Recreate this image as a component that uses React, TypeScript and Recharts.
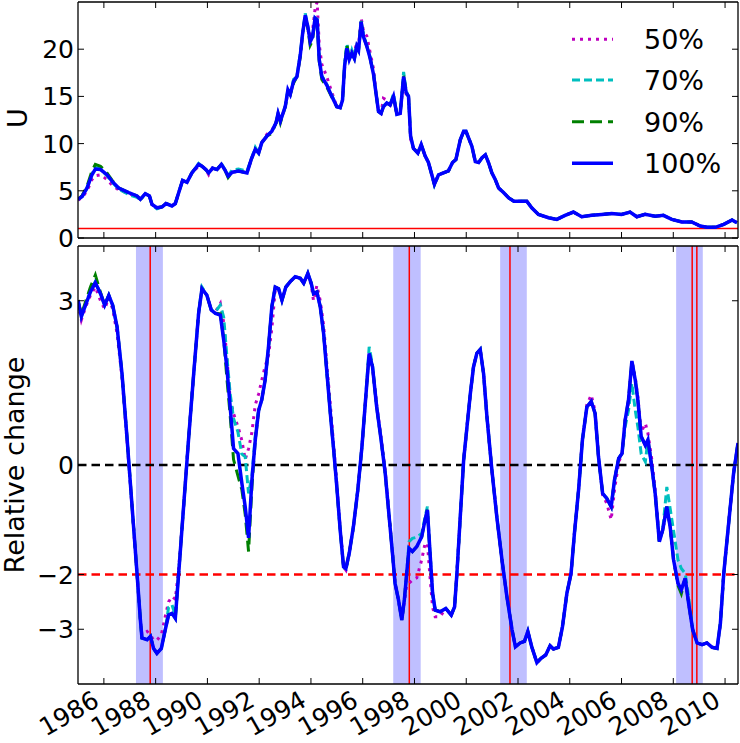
import { LineChart, Line, XAxis, YAxis, ReferenceLine, ReferenceArea } from "recharts";

const FONT = "'DejaVu Sans', sans-serif";

// axis ticks
const yearTicks = [1986, 1988, 1990, 1992, 1994, 1996, 1998, 2000, 2002, 2004, 2006, 2008, 2010];
const uTicks = [0, 5, 10, 15, 20];
const changeTicks = [-3, -2, 0, 3];
const seriesLabels = ["50%", "70%", "90%", "100%"];

// top panel: U
const topYears = [
  1985.0, 1985.16, 1985.35, 1985.54, 1985.67, 1985.87, 1986.12, 1986.32, 1986.57, 1986.96,
  1987.28, 1987.41, 1987.6, 1987.76, 1987.86, 1988.05, 1988.25, 1988.4, 1988.63, 1988.76,
  1988.89, 1989.04, 1989.21, 1989.4, 1989.66, 1989.79, 1989.94, 1990.05, 1990.2, 1990.37,
  1990.54, 1990.67, 1990.8, 1990.95, 1991.2, 1991.53, 1991.69, 1991.85, 1991.98, 1992.1,
  1992.3, 1992.49, 1992.65, 1992.73, 1992.82, 1993.01, 1993.11, 1993.2, 1993.33, 1993.46,
  1993.59, 1993.68, 1993.78, 1993.88, 1993.97, 1994.06, 1994.16, 1994.24, 1994.32, 1994.42,
  1994.61, 1994.81, 1995.0, 1995.13, 1995.22, 1995.3, 1995.39, 1995.48, 1995.58, 1995.68,
  1995.77, 1995.84, 1995.94, 1996.03, 1996.16, 1996.29, 1996.42, 1996.51, 1996.61, 1996.71,
  1996.8, 1996.93, 1997.06, 1997.19, 1997.32, 1997.45, 1997.58, 1997.68, 1997.77, 1997.85,
  1997.96, 1998.13, 1998.26, 1998.41, 1998.54, 1998.67, 1998.77, 1998.93, 1999.12, 1999.31,
  1999.47, 1999.6, 1999.77, 1999.9, 1999.99, 2000.09, 2000.22, 2000.35, 2000.48, 2000.61,
  2000.74, 2000.86, 2000.99, 2001.12, 2001.25, 2001.45, 2001.64, 2001.84, 2002.15, 2002.34,
  2002.53, 2002.79, 2003.18, 2003.5, 2003.82, 2004.14, 2004.46, 2004.85, 2005.24, 2005.62,
  2006.0, 2006.33, 2006.59, 2006.91, 2007.3, 2007.62, 2007.94, 2008.33, 2008.71, 2009.04,
  2009.3, 2009.62, 2009.95, 2010.27, 2010.46,
];
const u100 = [
  4.1, 4.4, 5.3, 6.7, 7.3, 7.25, 6.7, 6.0, 5.3, 4.8,
  4.45, 4.1, 4.7, 4.45, 3.55, 3.2, 3.3, 3.65, 3.4, 3.65,
  4.8, 6.1, 5.9, 6.9, 7.8, 7.6, 7.25, 6.9, 7.4, 7.25,
  7.8, 7.25, 6.55, 6.95, 7.1, 6.9, 8.3, 9.4, 9.0, 10.1,
  10.8, 11.3, 12.2, 13.2, 12.4, 13.95, 15.7, 15.2, 16.6, 17.1,
  19.4, 21.7, 23.6, 22.4, 20.8, 21.3, 23.3, 23.1, 18.9, 17.1,
  16.2, 15.0, 13.9, 13.8, 14.6, 18.2, 20.1, 18.9, 19.6, 19.0,
  20.3, 19.9, 22.9, 21.3, 20.3, 19.0, 17.3, 15.4, 13.4, 13.2,
  13.9, 14.3, 14.1, 15.0, 13.1, 13.2, 17.1, 15.4, 15.0, 10.8,
  9.5, 9.0, 9.9, 8.7, 8.0, 6.7, 5.7, 6.7, 6.9, 7.1,
  8.0, 8.3, 10.4, 11.3, 11.3, 10.6, 9.7, 8.1, 8.0, 8.5,
  8.8, 8.0, 6.9, 6.2, 5.3, 4.8, 4.25, 3.9, 3.9, 3.9,
  3.2, 2.5, 2.15, 1.97, 2.4, 2.75, 2.25, 2.4, 2.5, 2.6,
  2.5, 2.75, 2.25, 2.5, 2.3, 2.4, 1.97, 1.7, 1.7, 1.27,
  1.13, 1.13, 1.45, 1.9, 1.62,
];
const u90 = [
  4.1, 4.5, 5.5, 7.1, 7.8, 7.6, 6.9, 6.1, 5.3, 4.8,
  4.45, 4.1, 4.7, 4.45, 3.55, 3.2, 3.3, 3.65, 3.4, 3.65,
  4.8, 6.1, 5.9, 6.9, 7.8, 7.6, 7.25, 6.9, 7.4, 7.25,
  7.8, 7.25, 6.4, 6.95, 7.1, 6.9, 8.3, 9.4, 9.0, 10.1,
  10.8, 11.1, 12.2, 13.2, 12.2, 13.95, 15.5, 15.2, 16.4, 17.1,
  19.2, 21.7, 23.5, 22.2, 20.4, 20.9, 23.2, 23.0, 18.7, 16.8,
  16.0, 14.9, 13.9, 13.8, 14.6, 18.2, 20.5, 18.9, 19.6, 19.0,
  20.3, 19.9, 22.9, 21.3, 20.3, 19.0, 17.3, 15.4, 13.4, 13.2,
  13.9, 14.3, 14.1, 15.0, 13.1, 13.2, 17.2, 15.4, 15.0, 10.8,
  9.5, 9.0, 9.9, 8.7, 8.0, 6.7, 5.7, 6.7, 6.9, 7.1,
  8.0, 8.3, 10.4, 11.3, 11.3, 10.6, 9.7, 8.1, 8.0, 8.5,
  8.8, 8.0, 6.9, 6.2, 5.3, 4.8, 4.25, 3.9, 3.9, 3.9,
  3.2, 2.5, 2.15, 1.97, 2.4, 2.75, 2.25, 2.4, 2.5, 2.6,
  2.5, 2.75, 2.25, 2.5, 2.3, 2.4, 1.97, 1.7, 1.7, 1.27,
  1.13, 1.13, 1.45, 1.9, 1.62,
];
const u70 = [
  4.1, 4.4, 5.3, 6.8, 7.5, 7.3, 6.6, 5.9, 5.2, 4.6,
  4.3, 4.0, 4.7, 4.45, 3.5, 3.1, 3.3, 3.65, 3.4, 3.65,
  4.8, 6.1, 5.9, 6.9, 7.9, 7.6, 7.25, 6.9, 7.4, 7.25,
  7.9, 7.25, 6.6, 7.2, 7.3, 7.1, 8.3, 9.6, 9.0, 10.1,
  10.8, 11.3, 12.2, 13.2, 12.4, 13.95, 15.7, 15.2, 16.8, 17.1,
  19.6, 21.7, 23.8, 22.4, 20.9, 21.3, 23.3, 23.2, 19.0, 17.2,
  16.3, 15.1, 13.9, 13.8, 14.6, 18.4, 20.6, 18.9, 19.9, 19.1,
  20.4, 20.0, 23.0, 21.5, 20.4, 19.1, 17.4, 15.4, 13.4, 13.2,
  14.0, 14.3, 14.1, 15.3, 13.1, 13.2, 17.6, 15.6, 15.0, 10.8,
  9.5, 9.0, 9.9, 8.7, 8.0, 6.7, 5.6, 6.7, 6.9, 7.1,
  8.0, 8.3, 10.4, 11.3, 11.3, 10.6, 9.7, 8.1, 8.0, 8.5,
  8.8, 8.0, 6.9, 6.2, 5.3, 4.8, 4.25, 3.9, 3.9, 3.9,
  3.2, 2.5, 2.15, 1.97, 2.4, 2.75, 2.25, 2.4, 2.5, 2.6,
  2.5, 2.75, 2.25, 2.5, 2.3, 2.4, 1.97, 1.7, 1.7, 1.27,
  1.13, 1.13, 1.45, 1.9, 1.62,
];
const u50 = [
  4.0, 4.3, 5.0, 6.2, 6.6, 6.7, 6.2, 5.6, 5.1, 4.7,
  4.4, 4.1, 4.7, 4.45, 3.55, 3.2, 3.3, 3.65, 3.4, 3.65,
  4.8, 6.1, 5.9, 6.9, 7.6, 7.6, 7.25, 6.7, 7.4, 7.25,
  7.7, 7.25, 6.55, 6.95, 7.1, 6.9, 8.3, 9.4, 9.0, 10.1,
  11.0, 11.4, 12.2, 13.2, 12.4, 13.95, 15.4, 15.2, 16.6, 17.1,
  19.4, 21.7, 23.4, 22.0, 21.3, 21.9, 24.3, 25.0, 20.5, 18.4,
  17.1, 15.4, 13.9, 13.8, 14.6, 18.0, 20.0, 18.9, 19.8, 19.6,
  20.8, 20.4, 23.3, 21.9, 21.4, 19.6, 17.9, 15.4, 13.4, 13.2,
  14.8, 14.6, 14.1, 15.0, 13.1, 13.2, 16.8, 15.2, 15.0, 10.5,
  9.5, 9.0, 9.9, 8.7, 8.0, 6.7, 5.7, 6.7, 6.9, 7.1,
  8.0, 8.3, 10.4, 11.3, 11.3, 10.6, 9.7, 8.1, 8.0, 8.5,
  8.8, 8.0, 6.9, 6.2, 5.3, 4.8, 4.25, 3.9, 3.9, 3.9,
  3.2, 2.5, 2.15, 1.97, 2.4, 2.75, 2.25, 2.4, 2.5, 2.6,
  2.5, 2.75, 2.25, 2.5, 2.3, 2.4, 1.97, 1.7, 1.7, 1.27,
  1.13, 1.13, 1.45, 1.9, 1.62,
];
const uFloor = 1;

// bottom panel: relative change
const changeYears = [
  1985.0, 1985.13, 1985.29, 1985.48, 1985.67, 1985.87, 1986.03, 1986.19, 1986.34, 1986.51,
  1986.7, 1986.9, 1987.09, 1987.28, 1987.41, 1987.47, 1987.67, 1987.8, 1987.92, 1988.05,
  1988.22, 1988.37, 1988.5, 1988.63, 1988.76, 1988.89, 1989.08, 1989.27, 1989.47, 1989.66,
  1989.79, 1989.98, 1990.15, 1990.31, 1990.5, 1990.63, 1990.75, 1990.88, 1991.01, 1991.18,
  1991.33, 1991.46, 1991.59, 1991.72, 1991.85, 1991.98, 1992.1, 1992.23, 1992.36, 1992.49,
  1992.62, 1992.75, 1992.88, 1993.03, 1993.2, 1993.39, 1993.59, 1993.72, 1993.88, 1994.01,
  1994.1, 1994.23, 1994.36, 1994.49, 1994.62, 1994.75, 1994.88, 1995.0, 1995.13, 1995.26,
  1995.35, 1995.48, 1995.64, 1995.81, 1995.97, 1996.12, 1996.25, 1996.38, 1996.54, 1996.71,
  1996.87, 1997.02, 1997.16, 1997.25, 1997.38, 1997.51, 1997.61, 1997.7, 1997.79, 1997.92,
  1998.09, 1998.28, 1998.41, 1998.5, 1998.61, 1998.7, 1998.8, 1998.99, 1999.21, 1999.42,
  1999.55, 1999.64, 1999.77, 1999.9, 2000.03, 2000.16, 2000.28, 2000.41, 2000.54, 2000.67,
  2000.8, 2000.99, 2001.18, 2001.38, 2001.57, 2001.77, 2001.9, 2002.08, 2002.25, 2002.38,
  2002.53, 2002.73, 2002.89, 2003.07, 2003.24, 2003.37, 2003.56, 2003.72, 2003.89, 2004.05,
  2004.18, 2004.34, 2004.49, 2004.66, 2004.83, 2004.98, 2005.11, 2005.27, 2005.43, 2005.6,
  2005.73, 2005.89, 2006.02, 2006.14, 2006.27, 2006.4, 2006.53, 2006.63, 2006.76, 2006.92,
  2007.02, 2007.17, 2007.3, 2007.46, 2007.59, 2007.75, 2007.88, 2008.01, 2008.18, 2008.31,
  2008.46, 2008.59, 2008.75, 2008.92, 2009.11, 2009.3, 2009.5, 2009.69, 2009.82, 2009.95,
  2010.14, 2010.33, 2010.5,
];
const c100 = [
  3.01, 2.71, 2.92, 3.16, 3.33, 3.13, 2.92, 3.1, 2.92, 2.52,
  1.67, 0.46, -0.76, -1.98, -2.83, -3.16, -3.19, -3.13, -3.35, -3.44,
  -3.35, -3.01, -2.74, -2.71, -2.8, -1.98, -0.76, 0.46, 1.67, 2.77,
  3.22, 3.1, 2.83, 2.77, 2.74, 2.28, 1.79, 1.06, 0.3, 0.21,
  -0.33, -0.76, -1.33, -0.27, 0.46, 1.0, 1.19, 1.55, 2.16, 2.89,
  3.25, 3.22, 3.01, 3.25, 3.35, 3.44, 3.41, 3.32, 3.5, 3.32,
  3.13, 3.16, 2.89, 2.4, 1.67, 0.94, 0.27, -0.4, -1.19, -1.86,
  -1.89, -1.61, -1.13, -0.46, 0.33, 1.25, 2.04, 1.79, 1.06, 0.46,
  -0.15, -0.94, -1.67, -2.16, -2.46, -2.83, -2.46, -1.98, -1.52, -1.58,
  -1.49, -1.31, -1.0, -0.82, -1.67, -2.34, -2.65, -2.68, -2.62, -2.74,
  -2.59, -1.98, -0.94, 0.09, 0.7, 1.31, 1.79, 2.04, 2.11, 1.67,
  0.88, -0.09, -0.94, -1.73, -2.4, -3.01, -3.32, -3.25, -3.22, -3.04,
  -3.32, -3.61, -3.53, -3.47, -3.3, -3.36, -3.33, -2.95, -2.34, -1.98,
  -1.25, -0.46, 0.46, 1.06, 1.16, 0.94, 0.15, -0.52, -0.61, -0.76,
  -0.27, 0.12, 0.21, 0.82, 1.19, 1.9, 1.55, 1.19, 0.52, 0.36,
  0.46, -0.03, -0.52, -1.4, -1.19, -0.76, -1.13, -1.73, -2.16, -2.28,
  -2.07, -2.52, -3.01, -3.25, -3.28, -3.25, -3.33, -3.35, -2.89, -1.98,
  -1.06, -0.15, 0.4,
];
const c90 = [
  3.01, 2.75, 2.98, 3.25, 3.47, 3.15, 2.92, 3.1, 2.92, 2.52,
  1.67, 0.46, -0.76, -1.98, -2.83, -3.16, -3.19, -3.13, -3.35, -3.44,
  -3.35, -3.01, -2.74, -2.71, -2.8, -1.98, -0.76, 0.46, 1.67, 2.77,
  3.22, 3.1, 2.83, 2.77, 2.76, 2.3, 1.6, 0.9, 0.1, -0.2,
  -0.45, -0.9, -1.58, -0.4, 0.46, 1.0, 1.19, 1.55, 2.16, 2.89,
  3.25, 3.22, 3.01, 3.25, 3.35, 3.44, 3.41, 3.32, 3.5, 3.32,
  3.13, 3.16, 2.89, 2.4, 1.67, 0.94, 0.27, -0.4, -1.19, -1.86,
  -1.89, -1.61, -1.13, -0.46, 0.33, 1.25, 2.04, 1.79, 1.06, 0.46,
  -0.15, -0.94, -1.67, -2.16, -2.46, -2.83, -2.46, -1.98, -1.52, -1.58,
  -1.49, -1.31, -1.0, -0.82, -1.67, -2.34, -2.65, -2.68, -2.62, -2.74,
  -2.59, -1.98, -0.94, 0.09, 0.7, 1.31, 1.79, 2.04, 2.11, 1.67,
  0.88, -0.09, -0.94, -1.73, -2.4, -3.01, -3.32, -3.25, -3.22, -3.04,
  -3.32, -3.61, -3.53, -3.47, -3.3, -3.36, -3.33, -2.95, -2.34, -1.98,
  -1.25, -0.46, 0.46, 1.06, 1.16, 0.94, 0.15, -0.52, -0.61, -0.76,
  -0.27, 0.12, 0.21, 0.82, 1.19, 1.9, 1.55, 1.19, 0.52, 0.36,
  0.46, -0.03, -0.52, -1.4, -1.19, -0.76, -1.13, -1.73, -2.2, -2.35,
  -2.07, -2.52, -3.01, -3.25, -3.28, -3.25, -3.33, -3.35, -2.89, -1.98,
  -1.06, -0.15, 0.4,
];
const c70 = [
  3.01, 2.72, 2.92, 3.18, 3.35, 3.13, 2.92, 3.1, 2.92, 2.52,
  1.67, 0.46, -0.76, -1.98, -2.83, -3.16, -3.19, -3.13, -3.35, -3.44,
  -3.35, -3.01, -2.6, -2.55, -2.75, -1.98, -0.76, 0.46, 1.67, 2.8,
  3.25, 3.1, 2.83, 2.8, 2.92, 2.7, 2.0, 1.3, 0.85, 0.6,
  0.2, 0.15, -0.52, -0.2, 0.55, 1.0, 1.19, 1.55, 2.16, 2.89,
  3.25, 3.22, 3.01, 3.25, 3.35, 3.44, 3.41, 3.32, 3.5, 3.32,
  3.13, 3.16, 2.89, 2.4, 1.67, 0.94, 0.27, -0.4, -1.19, -1.86,
  -1.92, -1.61, -1.13, -0.46, 0.33, 1.28, 2.16, 1.82, 1.06, 0.46,
  -0.15, -0.94, -1.67, -2.16, -2.46, -2.83, -2.46, -1.98, -1.4, -1.34,
  -1.32, -1.25, -0.95, -0.76, -1.67, -2.34, -2.65, -2.68, -2.62, -2.74,
  -2.59, -1.98, -0.94, 0.09, 0.7, 1.31, 1.79, 2.04, 2.11, 1.67,
  0.88, -0.09, -0.94, -1.73, -2.4, -3.01, -3.32, -3.25, -3.22, -3.04,
  -3.32, -3.61, -3.53, -3.47, -3.3, -3.36, -3.33, -2.95, -2.34, -1.98,
  -1.25, -0.46, 0.46, 1.06, 1.16, 0.94, 0.15, -0.52, -0.61, -0.76,
  -0.27, 0.12, 0.21, 0.7, 1.0, 1.49, 1.0, 0.7, 0.2, 0.06,
  0.46, -0.03, -0.52, -1.4, -1.19, -0.4, -0.8, -1.2, -1.73, -1.89,
  -1.98, -2.4, -3.01, -3.25, -3.28, -3.25, -3.33, -3.35, -2.89, -1.98,
  -1.06, -0.15, 0.4,
];
const c50 = [
  2.95, 2.65, 2.88, 3.1, 3.25, 3.0, 2.85, 3.05, 2.85, 2.4,
  1.6, 0.4, -0.8, -1.98, -2.83, -3.1, -3.04, -3.1, -3.2, -3.2,
  -3.1, -2.77, -2.5, -2.4, -2.45, -1.9, -0.76, 0.46, 1.67, 2.77,
  3.22, 3.1, 2.83, 2.8, 2.95, 2.6, 1.98, 1.2, 0.94, 0.7,
  0.45, 0.1, 0.3, 0.6, 1.1, 1.3, 1.55, 1.8, 2.0, 2.5,
  3.2, 3.22, 3.01, 3.25, 3.35, 3.44, 3.41, 3.32, 3.45, 3.3,
  3.0, 3.28, 3.0, 2.55, 1.8, 1.1, 0.35, -0.35, -1.15, -1.86,
  -1.92, -1.61, -1.13, -0.46, 0.33, 1.25, 2.04, 1.79, 1.1, 0.5,
  -0.1, -0.9, -1.65, -2.16, -2.46, -2.83, -2.5, -2.2, -2.16, -2.1,
  -2.06, -1.73, -1.43, -1.43, -2.1, -2.6, -2.77, -2.77, -2.62, -2.74,
  -2.59, -1.98, -0.94, 0.09, 0.7, 1.31, 1.79, 2.04, 2.11, 1.67,
  0.88, -0.09, -0.94, -1.73, -2.4, -3.01, -3.32, -3.25, -3.22, -3.04,
  -3.32, -3.61, -3.53, -3.47, -3.3, -3.36, -3.33, -2.95, -2.34, -1.98,
  -1.25, -0.46, 0.5, 1.1, 1.28, 0.98, 0.15, -0.55, -0.7, -1.0,
  -0.45, 0.05, 0.21, 0.82, 1.15, 1.9, 1.6, 1.25, 0.6, 0.76,
  0.58, 0.1, -0.45, -1.35, -1.19, -0.76, -1.13, -1.73, -2.16, -2.28,
  -2.07, -2.52, -3.01, -3.25, -3.28, -3.25, -3.33, -3.35, -2.89, -1.98,
  -1.06, -0.15, 0.4,
];
const zeroLevel = 0;
const alertLevel = -2;

// shaded windows and event dates
const windowStarts = [1987.24, 1997.18, 2001.31, 2008.11];
const windowEnds = [1988.28, 1998.24, 2002.34, 2009.14];
const eventDates = [1987.79, 1997.8, 2001.69, 2008.73, 2008.91];

const series = [
  { key: "p50", color: "#bf00bf", dash: "3 5", width: 3 },
  { key: "p70", color: "#00bfbf", dash: "8 4", width: 3 },
  { key: "p90", color: "#008000", dash: "12 6", width: 3 },
  { key: "p100", color: "#0000ff", dash: undefined, width: 3.5 },
];

const topRows = topYears.map((year, i) => ({ year, p50: u50[i], p70: u70[i], p90: u90[i], p100: u100[i] }));
const changeRows = changeYears.map((year, i) => ({ year, p50: c50[i], p70: c70[i], p90: c90[i], p100: c100[i] }));

const frame = { stroke: "#000", strokeWidth: 1.3 };
const X_DOMAIN: [number, number] = [1985, 2010.5];
const TICK_FONT = 25;

function fmt(v: number) {
  return v < 0 ? `\u2212${Math.abs(v)}` : `${v}`;
}

// ticks point inward, like the matplotlib classic style
function xTick(dir: number, withLabel: boolean) {
  return (props: any) => {
    const { x, y, payload } = props;
    const ax = x - 3;
    const ay = y + 21;
    return (
      <g>
        <line x1={x} y1={y} x2={x} y2={y + dir * 6} stroke="#000" strokeWidth={1} />
        {withLabel && (
          <text
            x={ax}
            y={ay}
            textAnchor="end"
            fontSize={TICK_FONT}
            fontFamily={FONT}
            fill="#000"
            transform={`rotate(-30 ${ax} ${ay})`}
          >
            {payload.value}
          </text>
        )}
      </g>
    );
  };
}

function yTick(dir: number, withLabel: boolean) {
  return (props: any) => {
    const { x, y, payload } = props;
    return (
      <g>
        <line x1={x} y1={y} x2={x + dir * 6} y2={y} stroke="#000" strokeWidth={1} />
        {withLabel && (
          <text x={x - 4} y={y + 9} textAnchor="end" fontSize={TICK_FONT} fontFamily={FONT} fill="#000">
            {fmt(payload.value)}
          </text>
        )}
      </g>
    );
  };
}

function axes(yDomain: [number, number], yTicks: number[], xLabels: boolean) {
  return [
    <XAxis
      key="xb"
      dataKey="year"
      type="number"
      domain={X_DOMAIN}
      ticks={yearTicks}
      interval={0}
      allowDataOverflow
      height={1}
      tickSize={0}
      tickMargin={0}
      tickLine={false}
      axisLine={frame}
      tick={xTick(-1, xLabels)}
    />,
    <XAxis
      key="xt"
      xAxisId="top"
      orientation="top"
      dataKey="year"
      type="number"
      domain={X_DOMAIN}
      ticks={yearTicks}
      interval={0}
      allowDataOverflow
      height={1}
      tickSize={0}
      tickMargin={0}
      tickLine={false}
      axisLine={frame}
      tick={xTick(1, false)}
    />,
    <YAxis
      key="yl"
      type="number"
      domain={yDomain}
      ticks={yTicks}
      interval={0}
      allowDataOverflow
      width={78}
      tickSize={0}
      tickMargin={0}
      tickLine={false}
      axisLine={frame}
      tick={yTick(1, true)}
    />,
    <YAxis
      key="yr"
      yAxisId="right"
      orientation="right"
      type="number"
      domain={yDomain}
      ticks={yTicks}
      interval={0}
      allowDataOverflow
      width={1}
      tickSize={0}
      tickMargin={0}
      tickLine={false}
      axisLine={frame}
      tick={yTick(-1, false)}
    />,
  ];
}

function seriesLines() {
  return series.map((s) => (
    <Line
      key={s.key}
      dataKey={s.key}
      type="linear"
      stroke={s.color}
      strokeWidth={s.width}
      strokeDasharray={s.dash}
      dot={false}
      activeDot={false}
      isAnimationActive={false}
    />
  ));
}

export default function App() {
  return (
    <div style={{ position: "absolute", left: 0, top: 0, width: 740, height: 743, background: "#fff", fontFamily: FONT }}>
      <div style={{ position: "absolute", left: 0, top: 0 }}>
        <LineChart width={740} height={256} data={topRows} margin={{ top: 1, right: 1, bottom: 17, left: 0 }}>
          {axes([0, 25], uTicks, false)}
          <ReferenceLine y={uFloor} stroke="#ff0000" strokeWidth={1.5} />
          {seriesLines()}
        </LineChart>
      </div>

      <div style={{ position: "absolute", left: 0, top: 240 }}>
        <LineChart width={740} height={503} data={changeRows} margin={{ top: 5, right: 1, bottom: 58, left: 0 }}>
          {axes([-4, 4], changeTicks, true)}
          {windowStarts.map((start, i) => (
            <ReferenceArea key={`w${i}`} x1={start} x2={windowEnds[i]} fill="#bfbfff" fillOpacity={1} stroke="none" />
          ))}
          {eventDates.map((d) => (
            <ReferenceLine key={`e${d}`} x={d} stroke="#ff0000" strokeWidth={1.5} />
          ))}
          <ReferenceLine y={zeroLevel} stroke="#000" strokeWidth={2.5} strokeDasharray="8.5 5" />
          <ReferenceLine y={alertLevel} stroke="#ff0000" strokeWidth={2.5} strokeDasharray="8.5 5" />
          {seriesLines()}
        </LineChart>
      </div>

      <svg width={740} height={743} style={{ position: "absolute", left: 0, top: 0, pointerEvents: "none" }}>
        <text x={27} y={118} textAnchor="middle" fontSize={27} fontFamily={FONT} fill="#000" transform="rotate(-90 27 118)">
          U
        </text>
        <text x={24} y={465} textAnchor="middle" fontSize={27} fontFamily={FONT} fill="#000" transform="rotate(-90 24 465)">
          Relative change
        </text>
        {seriesLabels.map((label, i) => {
          const cy = [39.3, 80, 121.7, 163.3][i];
          const s = series[i];
          return (
            <g key={label}>
              <line x1={572} y1={cy} x2={613} y2={cy} stroke={s.color} strokeWidth={s.width} strokeDasharray={s.dash} />
              <text x={644} y={cy + 9.8} fontSize={27} fontFamily={FONT} fill="#000">
                {label}
              </text>
            </g>
          );
        })}
      </svg>
    </div>
  );
}
